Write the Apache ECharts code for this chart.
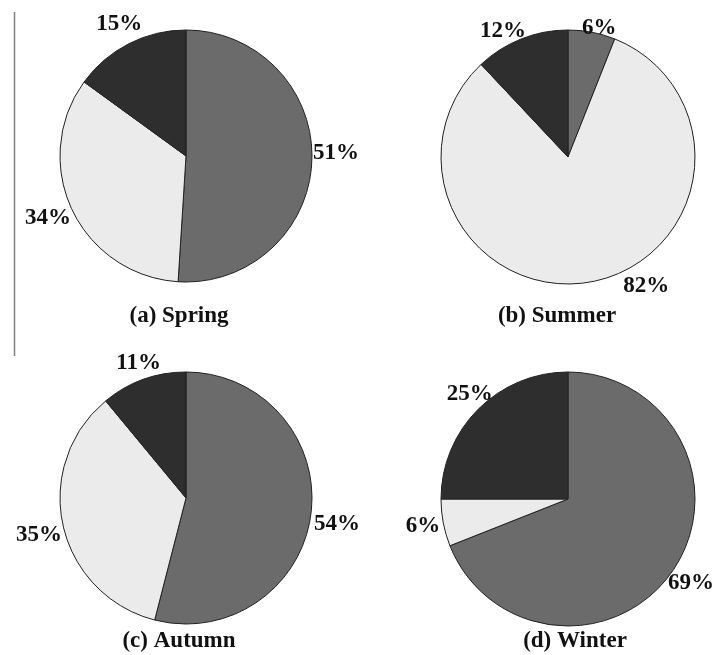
<!DOCTYPE html>
<html>
<head>
<meta charset="utf-8">
<script src="https://cdn.jsdelivr.net/npm/echarts@6/dist/echarts.min.js"></script>
<style>
  html, body { margin: 0; padding: 0; background: #fff; }
  #main { width: 719px; height: 655px; }
</style>
</head>
<body>
<div id="main"></div>
<script>
// 数据
var categories = ['Group 1', 'Group 2', 'Group 3'];
var seasonTitles = ['(a) Spring', '(b) Summer', '(c) Autumn', '(d) Winter'];
var spring = [51, 34, 15];
var summer = [6, 82, 12];
var autumn = [54, 35, 11];
var winter = [69, 6, 25];

var chartDom = document.getElementById('main');
var myChart = echarts.init(chartDom);

var sliceColors = ['#6b6b6b', '#ebebeb', '#2e2e2e'];
var serif = '"Liberation Serif", "Times New Roman", serif';

// 饼图位置
var centers = [[186, 156], [568, 157], [186, 498], [568, 499]];
var radii = [126, 127, 126, 127];
var titlePos = [[179, 305], [557, 305], [179, 630], [575, 630]];
// 标签微调 (像原图一样手动挪动过的标签)
var labelNudge = [
  [[0, -8], [0, -3], [0, -1]],
  [[4, 14], [51, -14], [-11, 11]],
  [[2, 7], [0, 4], [2, 2]],
  [[-6, -4], [-2, 0], [10, 3]]
];
var allValues = [spring, summer, autumn, winter];

// 标签放在扇区中线外侧, 文本框贴着圆周
function placeLabel(params) {
  var pts = params.labelLinePoints;
  if (!pts || pts.length < 2) return {};
  var p0 = pts[0], p1 = pts[1];
  var dx = p1[0] - p0[0], dy = p1[1] - p0[1];
  var len = Math.sqrt(dx * dx + dy * dy) || 1;
  dx /= len; dy /= len;
  var hw = params.labelRect.width / 2 + 1;
  var hh = params.labelRect.height / 2 + 7;
  var t = Math.min(
    Math.abs(dx) > 1e-6 ? hw / Math.abs(dx) : 1e9,
    Math.abs(dy) > 1e-6 ? hh / Math.abs(dy) : 1e9
  );
  var n = labelNudge[params.seriesIndex][params.dataIndex];
  return {
    x: p0[0] + dx * t + n[0],
    y: p0[1] + dy * t + n[1],
    align: 'center',
    verticalAlign: 'middle'
  };
}

function makePie(values, idx) {
  return {
    type: 'pie',
    center: centers[idx],
    radius: radii[idx],
    startAngle: 90,
    clockwise: true,
    avoidLabelOverlap: false,
    animation: false,
    itemStyle: {
      borderColor: '#222',
      borderWidth: 1
    },
    label: {
      show: true,
      position: 'outside',
      formatter: '{c}%',
      color: '#111',
      fontFamily: serif,
      fontWeight: 'bold',
      fontSize: 23
    },
    labelLine: {
      show: true,
      length: 10,
      length2: 0,
      lineStyle: { color: 'rgba(0,0,0,0)' }
    },
    labelLayout: placeLabel,
    emphasis: { disabled: true },
    data: values.map(function (v, i) {
      return { name: categories[i], value: v, itemStyle: { color: sliceColors[i] } };
    })
  };
}

var option = {
  backgroundColor: '#fff',
  title: seasonTitles.map(function (t, i) {
    return {
      text: t,
      left: titlePos[i][0],
      top: titlePos[i][1],
      textAlign: 'center',
      padding: 0,
      textStyle: {
        fontFamily: serif,
        fontWeight: 'bold',
        fontSize: 23,
        color: '#111'
      }
    };
  }),
  graphic: [
    {
      type: 'line',
      shape: { x1: 14.5, y1: 12, x2: 14.5, y2: 356 },
      style: { stroke: '#808080', lineWidth: 1.5 }
    }
  ],
  series: allValues.map(makePie)
};

myChart.setOption(option);
window.addEventListener('resize', function () {
  myChart.resize();
});
</script>
</body>
</html>
